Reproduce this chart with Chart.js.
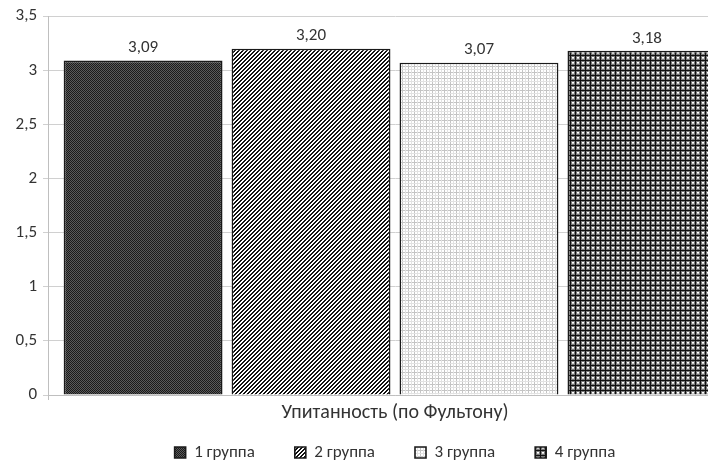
<!DOCTYPE html>
<html>
<head>
<meta charset="utf-8">
<script src="https://cdn.jsdelivr.net/npm/chart.js@4"></script>
<style>
  html, body { margin: 0; padding: 0; background: #fff; }
  #wrap { width: 708px; height: 460px; overflow: hidden; position: relative; }
  canvas { display: block; }
</style>
</head>
<body>
<div id="wrap"><canvas id="chart" width="745" height="493"></canvas></div>
<script>
const categories = ["Упитанность (по Фультону)"];
const groups = ["1 группа", "2 группа", "3 группа", "4 группа"];
const values = [3.09, 3.20, 3.07, 3.18];
const yMin = 0, yMax = 3.5, yStep = 0.5;

const FONT = "Carlito, Lato, 'Open Sans', sans-serif";
const FSIZE = 17;
const TEXT = "#333333";

// small tiles for the fill patterns
function makePattern(w, h, draw) {
  const c = document.createElement("canvas");
  c.width = w; c.height = h;
  const g = c.getContext("2d");
  draw(g, w, h);
  return g.createPattern(c, "repeat");
}

const patterns = [
  // dark dotted
  makePattern(2, 2, (g) => {
    g.fillStyle = "#5a5a5a"; g.fillRect(0, 0, 2, 2);
    g.fillStyle = "#1a1a1a"; g.fillRect(0, 0, 1, 1); g.fillRect(1, 1, 1, 1);
  }),
  // wide upward diagonal
  makePattern(4, 4, (g) => {
    g.fillStyle = "#fff"; g.fillRect(0, 0, 4, 4);
    g.fillStyle = "#111";
    for (let x = 0; x < 4; x++)
      for (let y = 0; y < 4; y++)
        if ((x + y) % 4 < 2) g.fillRect(x, y, 1, 1);
  }),
  // light grid
  makePattern(6, 6, (g) => {
    g.fillStyle = "#fff"; g.fillRect(0, 0, 6, 6);
    g.fillStyle = "#c4c4c4";
    g.fillRect(0, 0, 6, 1); g.fillRect(0, 0, 1, 6);
    g.fillStyle = "#e2e2e2";
    g.fillRect(0, 3, 6, 1); g.fillRect(3, 0, 1, 6);
  }),
  // plaid
  makePattern(5, 5, (g) => {
    g.fillStyle = "#7a7a7a"; g.fillRect(0, 0, 5, 5);
    g.fillStyle = "#111";
    g.fillRect(0, 0, 5, 1); g.fillRect(0, 0, 1, 5);
    g.fillStyle = "#fff";
    g.fillRect(2, 2, 2, 1);
    g.fillStyle = "#cfcfcf";
    g.fillRect(2, 3, 2, 1);
  })
];

const barLabels = {
  id: "barLabels",
  afterDatasetsDraw(chart) {
    const ctx = chart.ctx;
    ctx.save();
    ctx.font = FSIZE + "px " + FONT;
    ctx.fillStyle = TEXT;
    ctx.textAlign = "center";
    ctx.textBaseline = "bottom";
    chart.data.datasets.forEach((ds, i) => {
      chart.getDatasetMeta(i).data.forEach((bar, j) => {
        ctx.fillText(ds.data[j].toFixed(2).replace(".", ","), bar.x, bar.y - 4);
      });
    });
    ctx.restore();
  }
};

// pull the legend up closer to the axis label (legend padding also sets item spacing)
const legendLift = {
  id: "legendLift",
  afterLayout(chart) {
    chart.legend.top -= 22;
    chart.legend.bottom -= 22;
  }
};

new Chart(document.getElementById("chart"), {
  type: "bar",
  data: {
    labels: categories,
    datasets: groups.map((name, i) => ({
      label: name,
      data: [values[i]],
      backgroundColor: patterns[i],
      borderColor: "#1a1a1a",
      borderWidth: 1.6,
      categoryPercentage: 0.968,
      barPercentage: 0.946
    }))
  },
  options: {
    responsive: false,
    animation: false,
    layout: { padding: { top: 12, right: 3, left: 0, bottom: 0 } },
    scales: {
      x: {
        grid: {
          offset: true,
          drawOnChartArea: false,
          tickLength: 5,
          color: "#bfbfbf"
        },
        border: { color: "#bfbfbf" },
        ticks: { color: TEXT, font: { family: FONT, size: 20 }, padding: 1 }
      },
      y: {
        min: yMin,
        max: yMax,
        ticks: {
          stepSize: yStep,
          color: TEXT,
          font: { family: FONT, size: FSIZE },
          padding: 6,
          callback: (v) => String(v).replace(".", ",")
        },
        grid: { color: "#d0d0d0", tickLength: 5 },
        border: { color: "#bfbfbf" },
        afterFit: (s) => { s.width = 48; }
      }
    },
    plugins: {
      legend: {
        position: "bottom",
        fullSize: false,
        labels: {
          boxWidth: 11,
          boxHeight: 11,
          padding: 40,
          color: TEXT,
          font: { family: FONT, size: FSIZE }
        }
      },
      tooltip: { enabled: false }
    }
  },
  plugins: [barLabels, legendLift]
});
</script>
</body>
</html>
